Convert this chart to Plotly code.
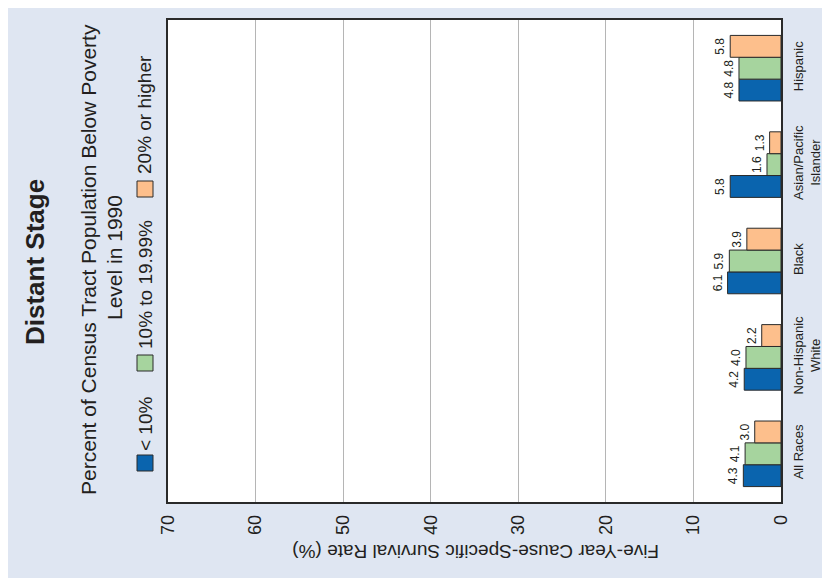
import plotly.graph_objects as go

# 数据
categories = ["All Races", "Non-Hispanic<br>White", "Black", "Asian/Pacific<br>Islander", "Hispanic"]
series_names = ["< 10%", "10% to 19.99%", "20% or higher"]
low_pov = [4.3, 4.2, 6.1, 5.8, 4.8]
mid_pov = [4.1, 4.0, 5.9, 1.6, 4.8]
high_pov = [3.0, 2.2, 3.9, 1.3, 5.8]
x_ticks = [0, 10, 20, 30, 40, 50, 60, 70]

COLORS = ["#0a64ae", "#a6d49e", "#fdbf8c"]
FONT = "Liberation Sans, Arial, Helvetica, sans-serif"
BG = "#dfe6f2"

OFF = 8  # 页面 body 默认边距
W, H = 830 - OFF, 578 - OFF
# 屏幕像素下的绘图区
SL, SR, ST, SB = 168, 781, 20, 502
L, T = SL - OFF, ST - OFF
R, B = W - (SR - OFF), H - (SB - OFF)
PW, PH = SR - SL, SB - ST


def px(x):
    # 屏幕像素 -> paper 坐标
    return (x - SL) / PW


def py(y):
    return (SB - y) / PH


fig = go.Figure()
for name, vals, color in zip(series_names, [low_pov, mid_pov, high_pov], COLORS):
    fig.add_trace(go.Bar(
        y=categories, x=vals, name=name, orientation="h",
        marker=dict(color=color, line=dict(color="#2a2a2a", width=1)),
        text=[f"{v:.1f}" for v in vals], textposition="outside",
        textangle=-90, textfont=dict(size=12, color="#231f20", family=FONT),
        cliponaxis=False, showlegend=False,
    ))

fig.update_xaxes(
    range=[70, 0], tickvals=x_ticks, tickangle=-90, automargin=False,
    tickfont=dict(size=18, color="#231f20", family=FONT),
    showgrid=True, gridcolor="#b5b5b5", gridwidth=1,
    showline=True, linecolor="#2a2a2a", linewidth=1.5, mirror=True,
    zeroline=False, ticks="", ticklabelstandoff=4,
)
fig.update_yaxes(
    side="right", tickangle=-90, showgrid=False, automargin=False,
    tickfont=dict(size=13, color="#231f20", family=FONT),
    showline=True, linecolor="#2a2a2a", linewidth=1.5, mirror=True,
    ticks="", ticklabelstandoff=5, range=[-0.5, 4.5],
)

annotations = [
    dict(x=px(35), y=py(262), text="<b>Distant Stage</b>", textangle=-90,
         font=dict(size=26, color="#231f20", family=FONT)),
    dict(x=px(88), y=py(260), text="Percent of Census Tract Population Below Poverty",
         textangle=-90, font=dict(size=21, color="#231f20", family=FONT)),
    dict(x=px(114), y=py(258), text="Level in 1990", textangle=-90,
         font=dict(size=21, color="#231f20", family=FONT)),
    dict(x=px(476), y=py(552), text="Five-Year Cause-Specific Survival Rate (%)",
         textangle=180, font=dict(size=19, color="#231f20", family=FONT)),
]
shapes = []

# 手工图例（整体旋转的布局）
legend_sq = [(455, 471), (355, 371), (181, 197)]
legend_txt_y = [424, 285, 115]
for name, color, (y0, y1), ty in zip(series_names, COLORS, legend_sq, legend_txt_y):
    shapes.append(dict(type="rect", xref="paper", yref="paper",
                       x0=px(137), x1=px(153), y0=py(y1), y1=py(y0),
                       fillcolor=color, line=dict(color="#2a2a2a", width=1)))
    annotations.append(dict(x=px(145), y=py(ty), text=name, textangle=-90,
                            font=dict(size=19, color="#231f20", family=FONT)))

for a in annotations:
    a.update(xref="paper", yref="paper", xanchor="center", yanchor="middle", showarrow=False)

fig.update_layout(
    width=W, height=H,
    margin=dict(l=L, r=R, t=T, b=B),
    paper_bgcolor=BG, plot_bgcolor="white",
    barmode="group", bargap=0.32, bargroupgap=0,
    annotations=annotations, shapes=shapes,
    font=dict(family=FONT),
)

fig.write_html("out.html")
